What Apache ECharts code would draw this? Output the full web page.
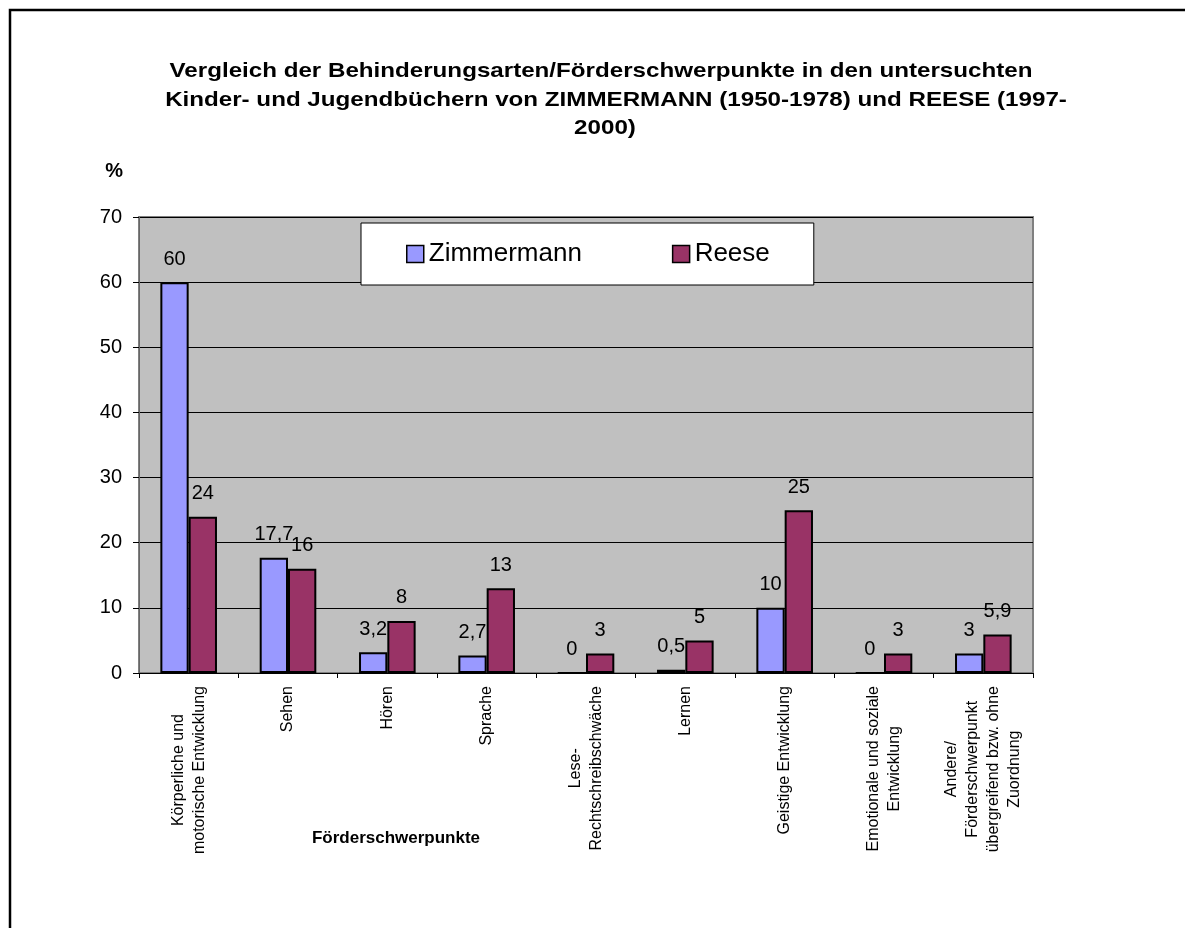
<!DOCTYPE html>
<html>
<head>
<meta charset="utf-8">
<script src="https://cdn.jsdelivr.net/npm/echarts@6/dist/echarts.min.js"></script>
<style>
  html, body { margin: 0; padding: 0; background: #fff; }
  #chart { width: 1185px; height: 928px; }
</style>
</head>
<body>
<div id="chart"></div>
<script>
var categories = [
  'Körperliche und\nmotorische Entwicklung',
  'Sehen',
  'Hören',
  'Sprache',
  'Lese-\nRechtschreibschwäche',
  'Lernen',
  'Geistige Entwicklung',
  'Emotionale und soziale\nEntwicklung',
  'Andere/\nFörderschwerpunkt\nübergreifend bzw. ohne\nZuordnung'
];
var zimmermann = [60, 17.7, 3.2, 2.7, 0, 0.5, 10, 0, 3];
var reese = [24, 16, 8, 13, 3, 5, 25, 3, 5.9];
var titleLines = [
  'Vergleich der Behinderungsarten/Förderschwerpunkte in den untersuchten',
  'Kinder- und Jugendbüchern von ZIMMERMANN (1950-1978) und REESE (1997-',
  '2000)'
];

var FONT = '"Liberation Sans", Arial, sans-serif';
var myChart = echarts.init(document.getElementById('chart'));

function commaLabel(p) {
  return String(p.value).replace('.', ',');
}

// title lines are drawn a bit wider than the font, like the original
function titleLine(text, x, y) {
  return {
    type: 'text', x: x, y: y, scaleX: 1.15,
    style: { text: text, fontFamily: FONT, fontSize: 21, fontWeight: 'bold', fill: '#000', textAlign: 'center', textVerticalAlign: 'top' }
  };
}

var barLabel = {
  show: true,
  position: 'top',
  distance: 13,
  fontFamily: FONT,
  fontSize: 20,
  color: '#000',
  formatter: commaLabel
};

var option = {
  backgroundColor: '#fff',
  animation: false,
  textStyle: { fontFamily: FONT },
  graphic: [
    {
      type: 'rect',
      shape: { x: 10, y: 10, width: 1300, height: 1000 },
      style: { fill: null, stroke: '#000', lineWidth: 2.5 },
      silent: true
    },
    titleLine(titleLines[0], 601, 61),
    titleLine(titleLines[1], 616, 90),
    titleLine(titleLines[2], 605, 118),
    {
      type: 'text', x: 396, y: 830,
      style: { text: 'Förderschwerpunkte', fontFamily: FONT, fontSize: 17, fontWeight: 'bold', fill: '#000', textAlign: 'center', textVerticalAlign: 'top' }
    }
  ],
  legend: {
    left: 361,
    top: 223,
    orient: 'horizontal',
    backgroundColor: '#fff',
    borderColor: '#000',
    borderWidth: 1,
    padding: [18, 44, 18, 45],
    itemGap: 90,
    itemWidth: 17,
    itemHeight: 17,
    icon: 'rect',
    textStyle: { fontFamily: FONT, fontSize: 26, color: '#000' },
    itemStyle: { borderColor: '#000', borderWidth: 1.5 },
    data: ['Zimmermann', 'Reese']
  },
  grid: {
    left: 139,
    right: 152,
    top: 217,
    bottom: 255,
    show: true,
    backgroundColor: '#C0C0C0',
    borderColor: '#808080',
    borderWidth: 2
  },
  xAxis: {
    type: 'category',
    data: categories,
    axisLine: { lineStyle: { color: '#000', width: 1 } },
    axisTick: { show: true, length: 5, lineStyle: { color: '#000' } },
    axisLabel: {
      interval: 0,
      rotate: 90,
      margin: 13,
      color: '#000',
      fontFamily: FONT,
      fontSize: 16,
      lineHeight: 21,
      formatter: function (v) {
        return v.split('\n').map(function (l) { return '{c|' + l + '}'; }).join('\n');
      },
      rich: {
        c: { align: 'center', fontFamily: FONT, fontSize: 16, lineHeight: 21, color: '#000' }
      }
    }
  },
  yAxis: {
    type: 'value',
    min: 0,
    max: 70,
    interval: 10,
    name: '%',
    nameLocation: 'end',
    nameGap: 36,
    nameTextStyle: { fontFamily: FONT, fontSize: 20, fontWeight: 'bold', color: '#000', align: 'right', padding: [0, 16, 0, 0] },
    axisLine: { show: true, lineStyle: { color: '#666', width: 1 } },
    axisTick: { show: true, length: 6, lineStyle: { color: '#000' } },
    axisLabel: { margin: 17, color: '#000', fontFamily: FONT, fontSize: 20 },
    splitLine: { show: true, lineStyle: { color: '#000', width: 1 } }
  },
  series: [
    {
      name: 'Zimmermann',
      type: 'bar',
      data: zimmermann,
      barGap: '0%',
      barCategoryGap: '43%',
      itemStyle: { color: '#9999FF', borderColor: '#000', borderWidth: 2 },
      label: barLabel
    },
    {
      name: 'Reese',
      type: 'bar',
      data: reese,
      barGap: '0%',
      barCategoryGap: '43%',
      itemStyle: { color: '#993366', borderColor: '#000', borderWidth: 2 },
      label: barLabel
    }
  ]
};
myChart.setOption(option);
</script>
</body>
</html>
